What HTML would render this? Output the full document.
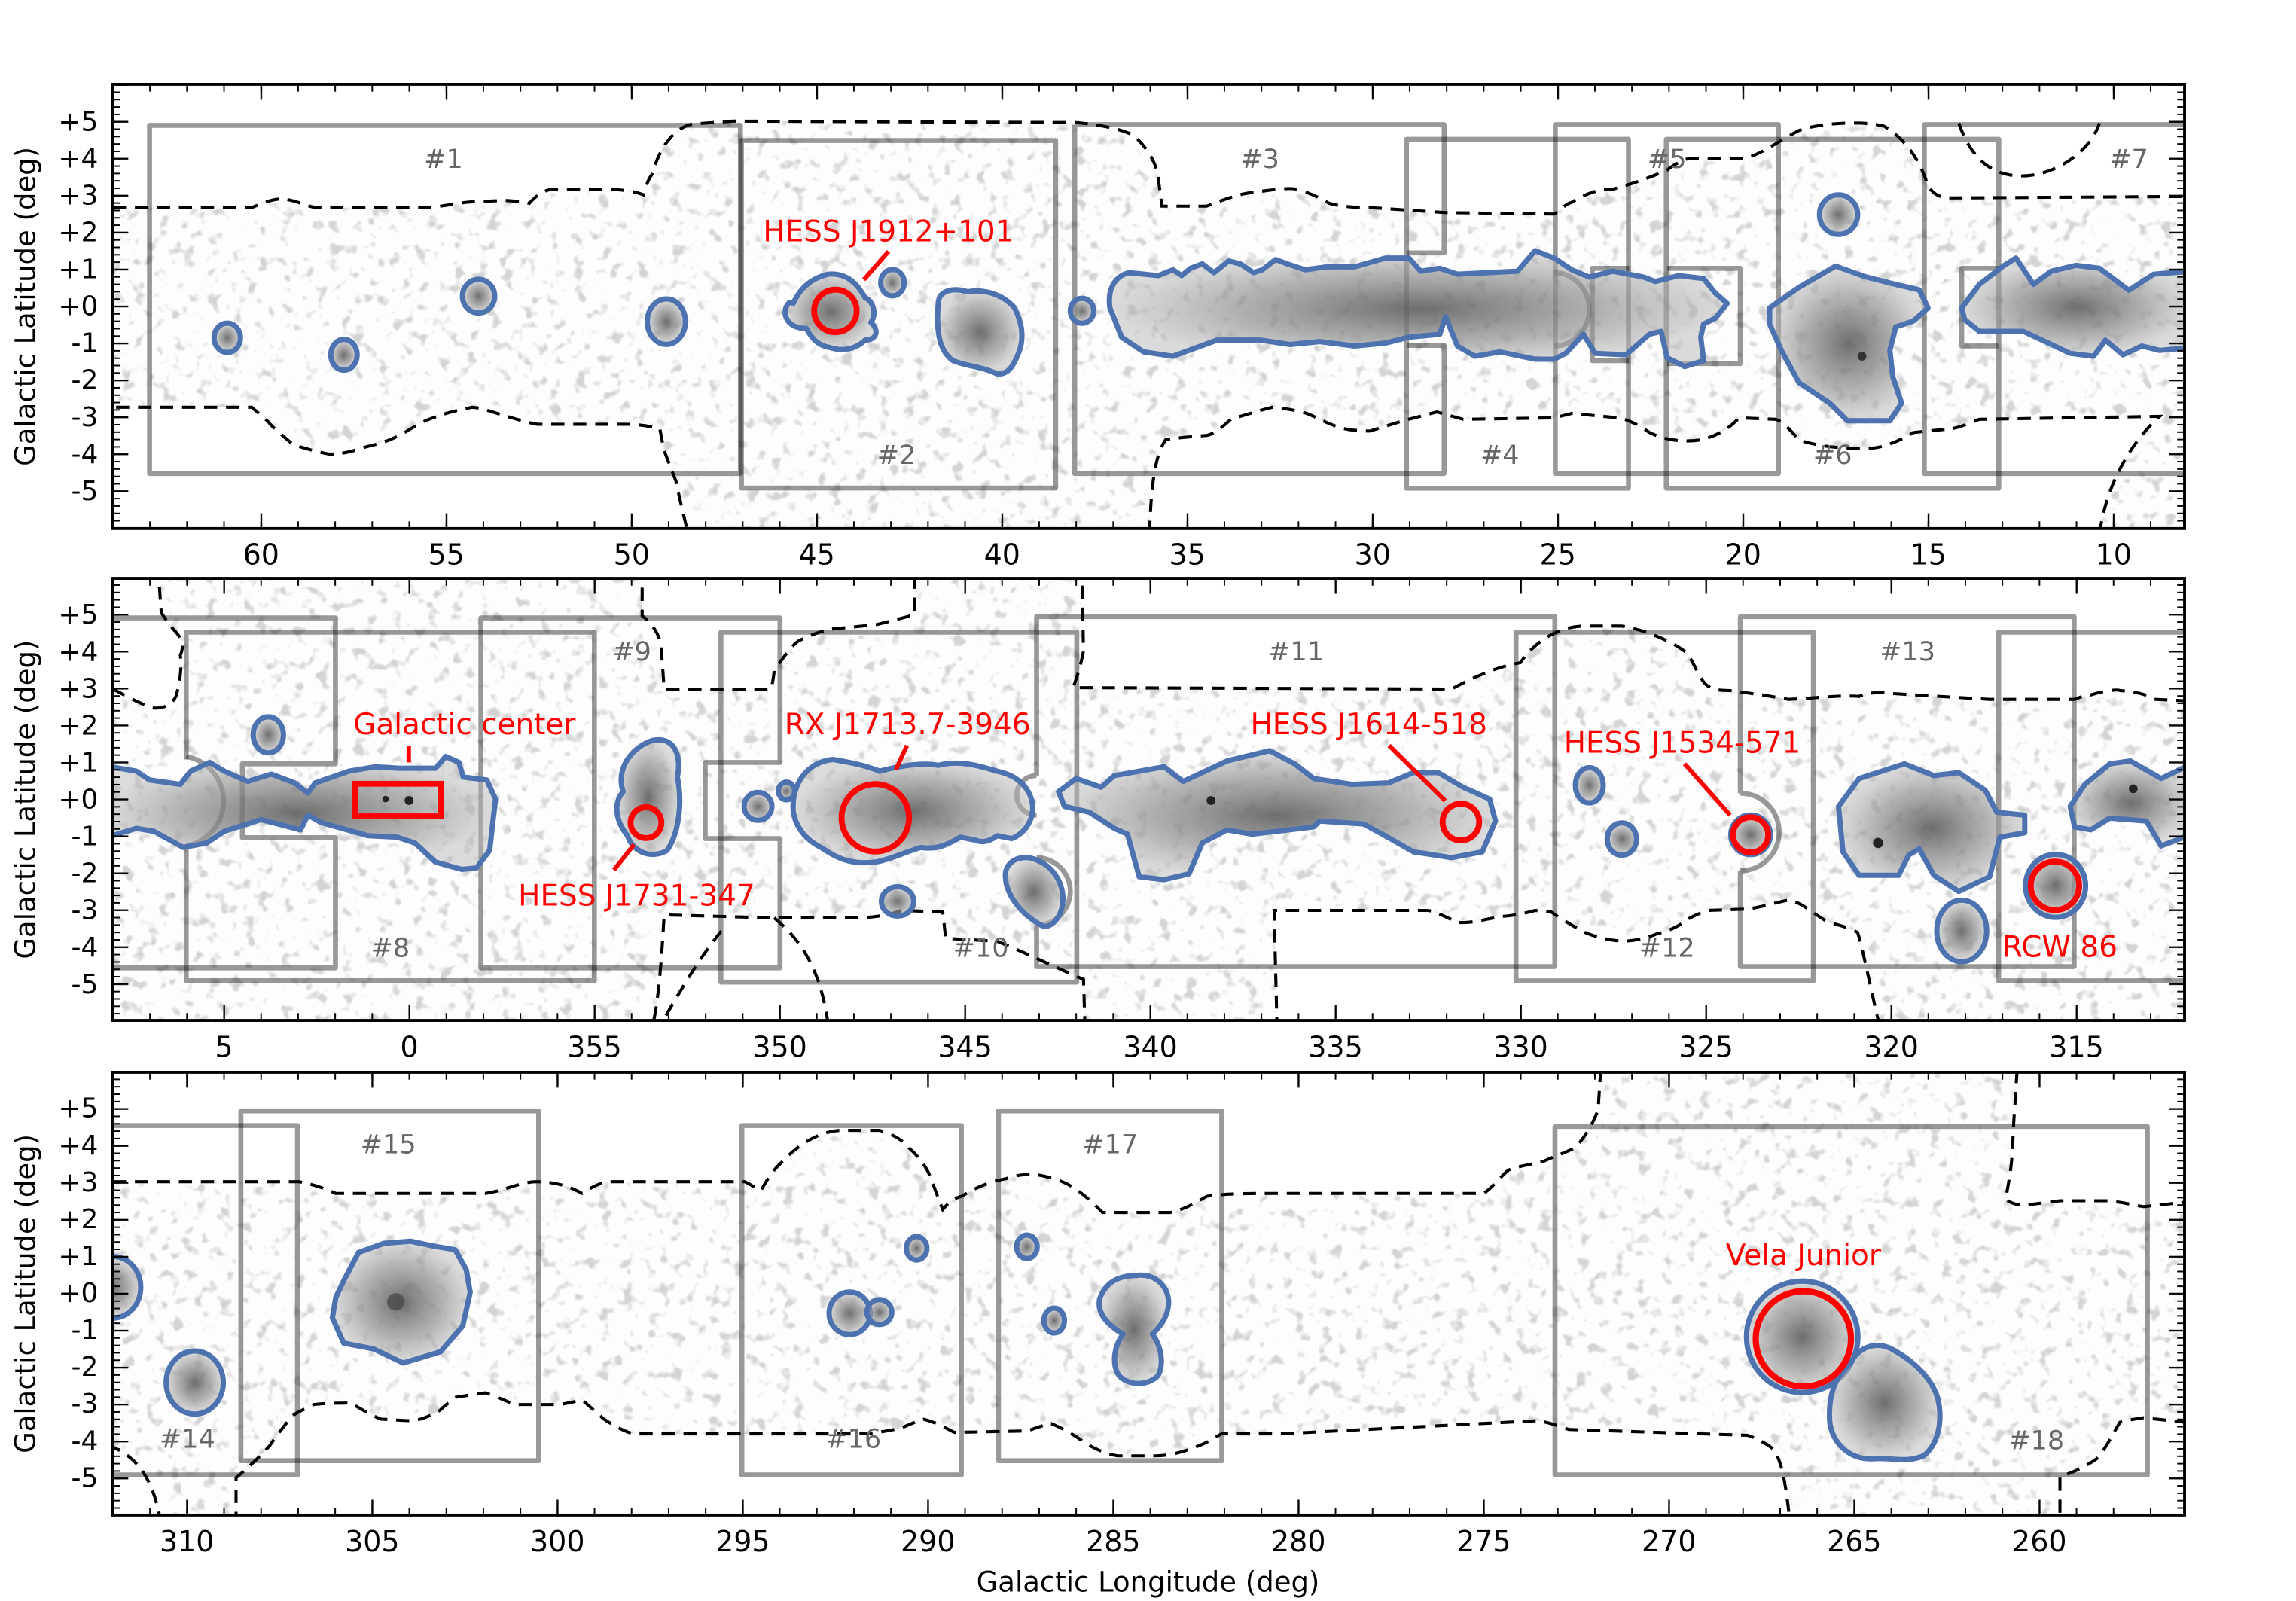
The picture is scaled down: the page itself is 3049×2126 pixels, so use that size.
<!DOCTYPE html>
<html><head><meta charset="utf-8"><style>
html,body{margin:0;padding:0;background:#fff;}
svg{display:block;}
text{font-family:"DejaVu Sans","Liberation Sans",sans-serif;}
</style></head><body>
<svg width="3049" height="2126" viewBox="0 0 1566 1092" preserveAspectRatio="none" xmlns="http://www.w3.org/2000/svg">
<defs>
<filter id="sp" x="0" y="0" width="1566" height="1092" filterUnits="userSpaceOnUse">
<feTurbulence type="fractalNoise" baseFrequency="0.12" numOctaves="2" seed="7"/>
<feColorMatrix type="matrix" values="0 0 0 0 0.66  0 0 0 0 0.66  0 0 0 0 0.66  6 0 0 0 -3.45"/>
</filter>
<radialGradient id="rg"><stop offset="0" stop-color="#5e5e5e" stop-opacity="0.9"/><stop offset="0.6" stop-color="#929292" stop-opacity="0.7"/><stop offset="1" stop-color="#b9b9b9" stop-opacity="0.5"/></radialGradient>
<clipPath id="c1"><rect x="77" y="57.5" width="1413" height="303"/></clipPath>
<clipPath id="c2"><rect x="77" y="394.5" width="1413" height="301.5"/></clipPath>
<clipPath id="c3"><rect x="77" y="731.4" width="1413" height="302"/></clipPath>
<path id="r1" d="M77,141.6 L171.7,141.6 C180,138 188,135 194,135.8 C203,137 210,141 216,141.6 L294,141.6 C305,140 315,138 322,137.7 L344,136.7 C352,137 358,138 361,138.7 C366,133 372,129 378,129 L411,129 C425,129 435,131 439,133 C441,125 443,121 444.5,119.3 C448,108 452,100 455.6,96 C460,90 466,86 472,84.6 L500,82.6 L734,83.6 C750,85 765,88 773,92.3 C782,100 788,110 789.7,119.3 L792.5,140.6 L823,140.6 C835,136 845,132 856.5,131 C870,129 880,128 884,129 C895,132 902,136 906.6,138.7 C915,141 925,141.6 934.5,141.6 L986,145 L1060,146 C1066,142 1068,139 1072,138 C1085,130 1093,129 1100,129 C1115,125 1128,120 1137,116 C1145,110 1150,108 1154,108 L1190,108 C1200,106 1215,95 1227,89 C1240,84 1270,82 1285,86 C1300,95 1310,110 1315,127 C1320,134 1325,135 1330,135 L1490,134 L1490,365 L1432,365 C1436,330 1455,300 1473,284 L1350,286 C1340,290 1333,293 1325,293 L1305,295 C1290,304 1280,306 1272,306 C1250,306 1235,303 1227,300 C1220,292 1215,287 1211,286 L1186,285 C1180,292 1170,298 1160,300 C1148,302 1135,300 1125,295 C1118,290 1110,286 1104,285 L1072,282 L1060,285 L998,286 L980,281 L957,287 L934.5,294 C925,294 918,293 912,291 C903,288 895,283 890,281.6 C880,279 872,278 867.6,277.8 C855,281 847,284 840,285.5 C833,292 828,296 823,297 C810,298 800,299 795,300 C788,310 785,330 784,365 L469.5,365 C466,350 463,338 461,328 C457,318 454,310 452.8,306.8 L450,292.3 C440,290 433,289.4 427.8,289.4 L366.5,289.4 C358,288 350,285 344,283.6 C336,281 328,278 322,277.8 C310,280 300,283 291.4,286.5 C283,290 277,295 272,297 C265,301 257,303 249.6,304.8 C240,308 232,310 224.5,309.7 C215,308 205,305 199.5,303 C193,297 186,292 182.8,287.5 L171.7,277.8 L77,277.8 Z"/>
<path id="r2" d="M77,470 C85,474 95,480 105,483 C112,483 117,481 120,475 C123,465 124,455 123,447 C126,440 124,435 118,429 C114,424 112,421 110,418 L108,390 L438,390 L438,420 C445,425 451,435 451,442 L453,470 L526,470 C527,465 528,460 528,457 C535,448 540,440 545,437 C555,432 562,430 568,429 L598,426 C610,423 618,421 624,419 L624,390 L738,390 L739,444 C737,455 734,463 732,469 L990,470 C1005,462 1020,455 1037,452 C1045,440 1060,428 1079,427 L1106,427 C1125,430 1145,440 1151,446 C1157,455 1160,465 1165,468 C1170,471 1175,471 1180,471 L1202,474 L1220,477 C1240,476 1255,474 1268,475 C1275,472 1283,472 1290,473 L1357,477 L1415,477 C1420,475 1423,474 1426,474 C1435,471 1445,470 1446,471 C1458,472 1465,474 1470,477 L1490,478 L1490,700 L1282,700 C1275,670 1270,645 1267,636 C1260,632 1250,630 1247,629 C1240,625 1235,621 1233,620 C1228,616 1222,614 1219,614 C1210,616 1200,619 1192,620 L1165,621 C1158,623 1153,626 1151,627 C1145,632 1138,635 1130,637 C1120,641 1112,642 1106,642 C1095,641 1085,638 1079,635 C1070,630 1062,625 1058,622 L1047,621 C1040,623 1030,625 1024,625 C1010,628 1000,630 994,629 C985,625 978,621 973,621 L869,621 L871,700 L740,700 L739,668 C720,660 700,650 680,642 L645,640 L643,622 L615,621 C600,626 590,626 577,626 L526,626 L453,624 C452,640 450,680 445,700 L77,700 Z"/>
<path id="r3" d="M77,806 L204,806 C215,808 225,812 229,814 L331,814 C345,812 355,806 366,806 C380,806 390,810 397,814 C403,810 410,806 417,806 L508,806 C512,808 515,810 519,812 C523,805 527,798 534,792 C545,780 560,771 575,771 L600,771 C610,774 616,778 620,783 C628,790 633,798 635,804 C638,812 641,820 643,825 C647,820 651,817 656,816 C665,810 675,806 686,804 C695,801 700,801 706,801 C718,803 726,806 732,810 C740,815 747,822 752,827 L798,827 C808,825 816,820 823,816 C835,814 850,814 873,814 L1012,814 C1018,810 1023,803 1029,798 C1037,795 1046,794 1053,792 C1062,788 1068,786 1074,783 C1082,775 1087,765 1090,757 L1092,726 L1376,726 L1374,758 C1373,770 1373,782 1372,792 C1371,802 1369,812 1368,818 C1372,821 1376,822 1381,822 L1405,819 L1438,819 C1448,820 1455,822 1462,823 L1490,820 L1490,970 L1462,967 C1455,968 1450,969 1446,970 C1440,980 1435,990 1430,995 C1420,1002 1412,1005 1405,1007 L1405,1040 L1221,1040 C1219,1020 1217,1008 1215,1001 C1213,994 1211,990 1209,988 C1204,984 1198,981 1192,979 L1070,975 C1062,972 1055,970 1049,969 L873,978 L833,978 C828,981 823,984 818,986 C808,990 798,993 788,993 L762,993 C752,991 744,987 737,982 C730,977 722,973 717,971 C712,972 706,974 701,976 L651,977 C645,974 638,970 630,968 C624,970 619,972 615,974 C605,976 595,978 585,978 L432,978 C425,976 418,972 412,968 C405,962 400,957 397,955 C392,956 387,957 382,958 L351,958 C344,955 337,952 331,950 C324,951 317,952 311,953 C307,956 303,959 300,962 C293,966 286,969 280,969 C273,969 266,968 260,968 C252,965 245,960 239,957 C231,957 222,957 214,958 C208,961 203,963 199,966 C192,975 188,980 184,986 C176,995 168,1002 161,1008 L161,1040 L110,1040 C105,1010 95,995 77,987 Z"/>
<clipPath id="rc1"><use href="#r1"/></clipPath>
<clipPath id="rc2"><use href="#r2"/></clipPath>
<clipPath id="rc3"><use href="#r3"/></clipPath>
<pattern id="xmin" x="76.5" y="0" width="25.27" height="1092" patternUnits="userSpaceOnUse"><rect x="0" y="0" width="1" height="1092" fill="#000"/></pattern>
<pattern id="xmaj1" x="177.6" y="0" width="126.35" height="1092" patternUnits="userSpaceOnUse"><rect x="0" y="0" width="1.2" height="1092" fill="#000"/></pattern>
<pattern id="xmaj2" x="152.3" y="0" width="126.35" height="1092" patternUnits="userSpaceOnUse"><rect x="0" y="0" width="1.2" height="1092" fill="#000"/></pattern>
<pattern id="xmaj3" x="127" y="0" width="126.35" height="1092" patternUnits="userSpaceOnUse"><rect x="0" y="0" width="1.2" height="1092" fill="#000"/></pattern>
<pattern id="ymin1" x="0" y="208.55" width="1566" height="5.04" patternUnits="userSpaceOnUse"><rect x="0" y="0" width="1566" height="1" fill="#000"/></pattern>
<pattern id="ymaj1" x="0" y="208.45" width="1566" height="25.2" patternUnits="userSpaceOnUse"><rect x="0" y="0" width="1566" height="1.2" fill="#000"/></pattern>
<pattern id="ymin2" x="0" y="544.75" width="1566" height="5.04" patternUnits="userSpaceOnUse"><rect x="0" y="0" width="1566" height="1" fill="#000"/></pattern>
<pattern id="ymaj2" x="0" y="544.65" width="1566" height="25.2" patternUnits="userSpaceOnUse"><rect x="0" y="0" width="1566" height="1.2" fill="#000"/></pattern>
<pattern id="ymin3" x="0" y="881.9" width="1566" height="5.04" patternUnits="userSpaceOnUse"><rect x="0" y="0" width="1566" height="1" fill="#000"/></pattern>
<pattern id="ymaj3" x="0" y="881.8" width="1566" height="25.2" patternUnits="userSpaceOnUse"><rect x="0" y="0" width="1566" height="1.2" fill="#000"/></pattern>
</defs>

<!-- ===== Panel 1 ===== -->
<g clip-path="url(#c1)">
<g clip-path="url(#rc1)"><rect x="77" y="57.5" width="1413" height="303" fill="#fdfdfd"/><rect x="77" y="57.5" width="1413" height="303" filter="url(#sp)"/></g>
<use href="#r1" fill="none" stroke="#000" stroke-width="2.1" stroke-dasharray="9 6"/>
<path d="M1336,84 C1345,110 1360,120 1379,120 C1400,120 1425,105 1432,84" fill="none" stroke="#000" stroke-width="2.1" stroke-dasharray="9 6"/>
<g fill="none" stroke="#000" stroke-opacity="0.4" stroke-width="3.4" stroke-linejoin="round">
<rect x="102" y="85.5" width="403" height="237.5"/>
<rect x="505.7" y="95.8" width="214.3" height="237.1"/>
<path d="M733,85 L985,85 L985,172.5 L960,172.5 M960,235.6 L985,235.6 L985,323 L733,323 L733,85"/>
<rect x="959.3" y="95" width="151.4" height="238"/>
<path d="M1111,183 L1086,183 L1086,246 L1111,246"/>
<rect x="1060.8" y="85" width="152.2" height="238"/>
<rect x="1136.5" y="95" width="226.8" height="238"/>
<path d="M1137,183 L1187,183 L1187,248 L1137,248"/>
<path d="M1500,85 L1312.5,85 L1312.5,323 L1500,323"/>
<path d="M1363,183 L1338,183 L1338,236 L1363,236"/>
<path d="M1060,186 A24,25 0 0 1 1060,236"/>
</g>
<g fill="url(#rg)" stroke="#4c72b0" stroke-width="3.6" stroke-linejoin="round">
<ellipse cx="155" cy="230.4" rx="9" ry="10"/>
<ellipse cx="234.6" cy="242" rx="9" ry="10.5"/>
<ellipse cx="326.4" cy="202" rx="11" ry="11.5"/>
<ellipse cx="454.5" cy="219.4" rx="13" ry="15.5"/>
<path d="M541,207 C545,198 552,190 565,187 C578,186 585,194 590,203 C596,206 598,214 594,220 C600,225 598,232 590,232 C584,238 575,240 566,237 C558,236 553,230 550,224 C538,224 534,216 536,210 C538,205 540,206 541,207 Z"/>
<ellipse cx="608.7" cy="192.8" rx="8" ry="9"/>
<path d="M640,206 C641,198 650,196 660,199 C672,197 684,201 692,210 C698,222 698,232 695,240 C692,248 688,256 680,255 C670,250 660,250 650,246 C642,240 638,230 640,206 Z"/>
<ellipse cx="738" cy="212" rx="8" ry="8.5"/>
<path d="M757,210 C755,195 762,188 770,186 L790,188 L800,184 L806,188 L812,183 L820,180 L828,186 L838,178 L846,180 L855,186 L861,184 L870,177 L878,180 L890,184 L905,182 L924,182 L945,176 L961,176 L969,185 L982,183 L994,187 L1035,185 L1047,171 L1060,176 L1072,184 L1084,189 L1100,185 L1121,189 L1129,192 L1145,188 L1162,190 L1170,200 L1178,207 L1170,217 L1162,221 L1160,230 L1162,246 L1149,250 L1137,244 L1133,226 L1125,228 L1109,242 L1088,241 L1080,228 L1068,241 L1060,245 L1047,245 L1023,240 L1006,243 L994,236 L986,216 L982,228 L961,230 L945,234 L924,236 L900,233 L880,235 L860,232 L830,232 L800,243 L780,240 L765,230 Z"/>
<ellipse cx="1254" cy="146.4" rx="13" ry="13.5"/>
<path d="M1207,210 L1227,196 L1252,181.5 L1272,188.7 L1293,194 L1309,197.7 L1315,210 L1305,219 L1293,223 L1289,239 L1291,257 L1297,275 L1289,287 L1260,287 L1248,275 L1227,261 L1215,239 L1207,221 Z"/>
<path d="M1338,210 L1350,194 L1367,181 L1375,176 L1381,185 L1387,194 L1399,185 L1416,181 L1432,183 L1452,198 L1469,187 L1495,185 L1495,237 L1473,239 L1461,236 L1448,242 L1436,232 L1428,243 L1412,241 L1380,226 L1350,226 L1340,218 Z"/>
</g>
<circle cx="1270" cy="243" r="3" fill="#333"/>
<circle cx="569.8" cy="212.1" r="14.5" fill="none" stroke="#f00" stroke-width="4"/>
<line x1="606" y1="171.5" x2="589.2" y2="190.8" stroke="#f00" stroke-width="3"/>
</g>

<!-- ===== Panel 2 ===== -->
<g clip-path="url(#c2)">
<g clip-path="url(#rc2)"><rect x="77" y="394.5" width="1413" height="302" fill="#fdfdfd"/><rect x="77" y="394.5" width="1413" height="302" filter="url(#sp)"/></g>
<use href="#r2" fill="none" stroke="#000" stroke-width="2.1" stroke-dasharray="9 6"/>
<path d="M492,635 C480,650 470,665 450,700 M528,626 C545,640 560,660 565,700" fill="none" stroke="#000" stroke-width="2.1" stroke-dasharray="9 6"/>
<g fill="none" stroke="#000" stroke-opacity="0.4" stroke-width="3.4" stroke-linejoin="round">
<path d="M70,421.5 L228.8,421.5 L228.8,521 L165.3,521 L165.3,571.3 L228.8,571.3 L228.8,660.2 L70,660.2"/>
<path d="M127,518 L127,431.2 L405.4,431.2 L405.4,668.9 L127,668.9 L127,578"/>
<path d="M127,516 A31,31 0 0 1 127,577"/>
<path d="M328,421.5 L532,421.5 L532,520 L481,520 L481,572 L532,572 L532,660.2 L328,660.2 Z"/>
<rect x="491.7" y="431.2" width="242.7" height="238.7"/>
<path d="M707,529 L707,420.6 L1060.5,420.6 L1060.5,659.3 L707,659.3 L707,631 M707,529 A13,13 0 0 0 707,556 M707,585 A23,23 0 0 1 707,631"/>
<rect x="1034" y="431.2" width="202.8" height="237.8"/>
<path d="M1187,541 L1187,420.6 L1414.7,420.6 L1414.7,659.3 L1187,659.3 L1187,594 M1187,541 A26.5,26.5 0 0 1 1187,594"/>
<path d="M1500,431.2 L1363.2,431.2 L1363.2,669 L1500,669"/>
</g>
<g fill="url(#rg)" stroke="#4c72b0" stroke-width="3.6" stroke-linejoin="round">
<ellipse cx="183" cy="501.2" rx="10.3" ry="12.3"/>
<path d="M70,522 L93,526 L102,532 L123,535 L130,526 L143,520 L153,526 L169,533 L185,528 L201,534 L210,541 L215,534 L238,526 L256,523 L272,524 L297,524 L304,516 L313,520 L316,530 L332,532 L338,545 L336,562 L334,580 L325,592 L315,593 L297,588 L283,575 L271,571 L251,570 L219,561 L210,556 L205,566 L178,559 L153,567 L141,575 L125,578 L105,567 L93,565 L70,572 Z"/>
<path d="M425,540 C420,525 430,510 445,505 C460,502 465,515 462,530 C466,550 462,570 455,580 C445,586 432,582 428,570 C420,560 418,548 425,540 Z"/>
<ellipse cx="517" cy="550" rx="9.5" ry="9.5"/>
<ellipse cx="536.4" cy="539.5" rx="5.5" ry="6"/>
<path d="M541,553 C540,535 550,520 568,518 C580,520 590,522 600,526 C615,522 630,520 640,522 C655,518 670,523 680,526 C700,530 706,545 704,555 C702,565 695,570 690,572 L680,570 C675,574 670,575 665,573 L655,571 C648,575 640,580 628,578 C615,582 608,586 597,588 C580,590 570,585 560,578 C548,572 542,562 541,553 Z"/>
<ellipse cx="612.2" cy="614.8" rx="11" ry="10"/>
<path d="M686,600 C684,590 692,584 702,585 C715,588 724,598 725,612 C725,625 718,632 712,632 C704,628 696,622 690,612 C687,606 686,603 686,600 Z"/>
<path d="M722,540 L734,531 L751,537 L760,529 L794,523 L807,533 L837,519 L866,512 L883,521 L896,531 L922,535 L947,534 L964,527 L981,527 L998,537 L1016,545 L1020,560 L1011,581 L990,585 L964,581 L943,569 L930,562 L900,560 L896,564 L854,569 L837,566 L820,575 L811,596 L794,600 L777,598 L769,569 L760,565 L743,554 L726,550 Z"/>
<ellipse cx="1084" cy="535.6" rx="9.5" ry="12"/>
<ellipse cx="1106.2" cy="572.3" rx="10" ry="11"/>
<ellipse cx="1194" cy="569.4" rx="13.5" ry="13.5"/>
<path d="M1254,550 L1268,531 L1299,521 L1319,529 L1336,527 L1354,539 L1362,554 L1381,556 L1381,568 L1364,571 L1357,598 L1336,608 L1319,597 L1309,579 L1302,583 L1295,597 L1268,597 L1257,581 Z"/>
<ellipse cx="1338" cy="635" rx="17" ry="21"/>
<ellipse cx="1402" cy="604.2" rx="20.5" ry="21.5"/>
<path d="M1412,550 L1422,535 L1439,521 L1453,519 L1474,531 L1495,521 L1495,569 L1474,577 L1464,560 L1439,558 L1426,566 L1415,564 Z"/>
</g>
<g fill="#222"><circle cx="279" cy="546" r="3"/><circle cx="263" cy="545" r="2.2"/><circle cx="826" cy="546" r="3"/><circle cx="1281" cy="575" r="3.5"/><circle cx="1455" cy="538" r="3"/></g>
<g fill="none" stroke="#f00" stroke-width="4">
<rect x="242.1" y="534.6" width="58.5" height="22.2"/>
<circle cx="440.6" cy="561.1" r="10.5"/>
<circle cx="597" cy="557.8" r="23"/>
<circle cx="996.4" cy="560.7" r="12.5"/>
<circle cx="1194" cy="569.4" r="12"/>
<circle cx="1401.6" cy="604.2" r="16.5"/>
</g>
<g stroke="#f00" stroke-width="3">
<line x1="278.8" y1="508.5" x2="278.8" y2="520"/>
<line x1="432.4" y1="576.1" x2="418.7" y2="593.5"/>
<line x1="618.6" y1="508.5" x2="611" y2="525"/>
<line x1="947.4" y1="508.5" x2="985.7" y2="546.2"/>
<line x1="1149" y1="521" x2="1180" y2="555.9"/>
</g>
</g>

<!-- ===== Panel 3 ===== -->
<g clip-path="url(#c3)">
<g clip-path="url(#rc3)"><rect x="77" y="731.4" width="1413" height="302" fill="#fdfdfd"/><rect x="77" y="731.4" width="1413" height="302" filter="url(#sp)"/></g>
<use href="#r3" fill="none" stroke="#000" stroke-width="2.1" stroke-dasharray="9 6"/>
<g fill="none" stroke="#000" stroke-opacity="0.4" stroke-width="3.4" stroke-linejoin="round">
<path d="M70,767.7 L202.9,767.7 L202.9,1006 L70,1006"/>
<rect x="164.3" y="757.7" width="203.1" height="238.6"/>
<rect x="506" y="767.7" width="149.7" height="238.3"/>
<rect x="681" y="757.7" width="152.3" height="238.6"/>
<rect x="1060.6" y="768.3" width="404" height="237.7"/>
</g>
<g fill="url(#rg)" stroke="#4c72b0" stroke-width="3.6" stroke-linejoin="round">
<ellipse cx="77" cy="878" rx="19" ry="21"/>
<ellipse cx="132.8" cy="943" rx="19.5" ry="21.5"/>
<path d="M244.5,854.3 L262,848 L280,846.6 L296,850 L310.5,852.4 L318,866 L320.7,881.4 L315.6,904.5 L300.4,922 L275,929.7 L254.7,920 L234.4,916.1 L226.7,898.8 L229,885 L234.4,873.6 Z"/>
<ellipse cx="579.5" cy="895.8" rx="14" ry="14.5"/>
<ellipse cx="599.8" cy="894.9" rx="8.5" ry="8.5"/>
<ellipse cx="625.2" cy="851.4" rx="7" ry="8"/>
<ellipse cx="700.4" cy="850.4" rx="7" ry="8"/>
<ellipse cx="719" cy="900.7" rx="7" ry="8.5"/>
<path d="M775,870 C788,868 798,878 797,890 C796,900 790,906 786,910 C792,918 794,930 790,938 C784,945 770,946 763,938 C758,930 760,918 766,910 C756,904 748,896 750,886 C754,874 764,870 775,870 Z"/>
<circle cx="1229.2" cy="911.8" r="38"/>
<path d="M1262,930 C1268,918 1280,915 1290,920 C1305,928 1318,940 1322,955 C1325,970 1322,985 1312,993 C1300,998 1290,994 1278,995 C1262,996 1250,985 1248,970 C1247,955 1250,940 1262,930 Z"/>
</g>
<circle cx="270" cy="888" r="6" fill="#444" opacity="0.7"/>
<circle cx="1230" cy="913.2" r="32.5" fill="none" stroke="#f00" stroke-width="4.2"/>
</g>

<!-- frames & ticks -->
<g>
<rect x="77" y="57.5" width="1413" height="5" fill="url(#xmin)"/><rect x="77" y="355.6" width="1413" height="5" fill="url(#xmin)"/>
<rect x="77" y="57.5" width="1413" height="10.5" fill="url(#xmaj1)"/><rect x="77" y="350.1" width="1413" height="10.5" fill="url(#xmaj1)"/>
<rect x="77" y="394.5" width="1413" height="5" fill="url(#xmin)"/><rect x="77" y="691" width="1413" height="5" fill="url(#xmin)"/>
<rect x="77" y="394.5" width="1413" height="10.5" fill="url(#xmaj2)"/><rect x="77" y="685.5" width="1413" height="10.5" fill="url(#xmaj2)"/>
<rect x="77" y="731.4" width="1413" height="5" fill="url(#xmin)"/><rect x="77" y="1028.4" width="1413" height="5" fill="url(#xmin)"/>
<rect x="77" y="731.4" width="1413" height="10.5" fill="url(#xmaj3)"/><rect x="77" y="1022.9" width="1413" height="10.5" fill="url(#xmaj3)"/>
<rect x="77" y="57.5" width="5" height="303" fill="url(#ymin1)"/><rect x="1485" y="57.5" width="5" height="303" fill="url(#ymin1)"/>
<rect x="77" y="57.5" width="10.5" height="303" fill="url(#ymaj1)"/><rect x="1479.5" y="57.5" width="10.5" height="303" fill="url(#ymaj1)"/>
<rect x="77" y="394.5" width="5" height="301.5" fill="url(#ymin2)"/><rect x="1485" y="394.5" width="5" height="301.5" fill="url(#ymin2)"/>
<rect x="77" y="394.5" width="10.5" height="301.5" fill="url(#ymaj2)"/><rect x="1479.5" y="394.5" width="10.5" height="301.5" fill="url(#ymaj2)"/>
<rect x="77" y="731.4" width="5" height="302" fill="url(#ymin3)"/><rect x="1485" y="731.4" width="5" height="302" fill="url(#ymin3)"/>
<rect x="77" y="731.4" width="10.5" height="302" fill="url(#ymaj3)"/><rect x="1479.5" y="731.4" width="10.5" height="302" fill="url(#ymaj3)"/>
</g>
<g fill="none" stroke="#000" stroke-width="2">
<rect x="77" y="57.5" width="1413" height="303"/>
<rect x="77" y="394.5" width="1413" height="301.5"/>
<rect x="77" y="731.4" width="1413" height="302"/>
</g>

<!-- box labels -->
<g fill="#666" font-size="18" text-anchor="middle">
<text x="302.5" y="114.5">#1</text><text x="611.5" y="316.4">#2</text><text x="859.3" y="114.5">#3</text>
<text x="1023" y="316.4">#4</text><text x="1137" y="114.5">#5</text><text x="1250" y="316.4">#6</text><text x="1452" y="114.5">#7</text>
<text x="266.2" y="652.5">#8</text><text x="431" y="450.5">#9</text><text x="669" y="652.5">#10</text>
<text x="884" y="450.5">#11</text><text x="1137" y="652.5">#12</text><text x="1301" y="450.5">#13</text>
<text x="127.8" y="987.6">#14</text><text x="264.8" y="786.7">#15</text><text x="582" y="987.6">#16</text>
<text x="757.2" y="786.7">#17</text><text x="1388.9" y="988.6">#18</text>
</g>
<!-- red labels -->
<g fill="#f00" font-size="20">
<text x="606" y="164.7" text-anchor="middle">HESS J1912+101</text>
<text x="241" y="500.8">Galactic center</text>
<text x="515" y="617.7" text-anchor="end">HESS J1731-347</text>
<text x="619" y="500.8" text-anchor="middle">RX J1713.7-3946</text>
<text x="933.6" y="500.8" text-anchor="middle">HESS J1614-518</text>
<text x="1147.4" y="513.4" text-anchor="middle">HESS J1534-571</text>
<text x="1405" y="652.5" text-anchor="middle">RCW 86</text>
<text x="1230" y="863" text-anchor="middle">Vela Junior</text>
</g>

<!-- y tick labels -->
<g font-size="18.5" text-anchor="end" fill="#000" dominant-baseline="central">
<text x="67" y="83.1">+5</text><text x="67" y="108.3">+4</text><text x="67" y="133.5">+3</text><text x="67" y="158.7">+2</text><text x="67" y="183.9">+1</text><text x="67" y="209.1">+0</text><text x="67" y="234.3">-1</text><text x="67" y="259.5">-2</text><text x="67" y="284.7">-3</text><text x="67" y="309.9">-4</text><text x="67" y="335.1">-5</text>
<text x="67" y="419.5">+5</text><text x="67" y="444.7">+4</text><text x="67" y="469.9">+3</text><text x="67" y="495.1">+2</text><text x="67" y="520.3">+1</text><text x="67" y="545.5">+0</text><text x="67" y="570.7">-1</text><text x="67" y="595.9">-2</text><text x="67" y="621.1">-3</text><text x="67" y="646.3">-4</text><text x="67" y="671.5">-5</text>
<text x="67" y="756.2">+5</text><text x="67" y="781.4">+4</text><text x="67" y="806.6">+3</text><text x="67" y="831.8">+2</text><text x="67" y="857">+1</text><text x="67" y="882.2">+0</text><text x="67" y="907.4">-1</text><text x="67" y="932.6">-2</text><text x="67" y="957.8">-3</text><text x="67" y="983">-4</text><text x="67" y="1008.2">-5</text>
</g>
<!-- x tick labels -->
<g font-size="19.5" text-anchor="middle" fill="#000">
<text x="178.1" y="385">60</text><text x="304.4" y="385">55</text><text x="430.8" y="385">50</text><text x="557.1" y="385">45</text><text x="683.5" y="385">40</text><text x="809.8" y="385">35</text><text x="936.2" y="385">30</text><text x="1062.5" y="385">25</text><text x="1188.9" y="385">20</text><text x="1315.2" y="385">15</text><text x="1441.6" y="385">10</text>
<text x="152.8" y="721">5</text><text x="279.2" y="721">0</text><text x="405.5" y="721">355</text><text x="531.9" y="721">350</text><text x="658.2" y="721">345</text><text x="784.6" y="721">340</text><text x="910.9" y="721">335</text><text x="1037.3" y="721">330</text><text x="1163.6" y="721">325</text><text x="1290" y="721">320</text><text x="1416.3" y="721">315</text>
<text x="127.5" y="1058">310</text><text x="253.9" y="1058">305</text><text x="380.2" y="1058">300</text><text x="506.6" y="1058">295</text><text x="632.9" y="1058">290</text><text x="759.3" y="1058">285</text><text x="885.6" y="1058">280</text><text x="1012" y="1058">275</text><text x="1138.3" y="1058">270</text><text x="1264.7" y="1058">265</text><text x="1391" y="1058">260</text>
</g>
<!-- axis titles -->
<g font-size="19" text-anchor="middle" fill="#000">
<text transform="translate(24,209) rotate(-90)">Galactic Latitude (deg)</text>
<text transform="translate(24,545.3) rotate(-90)">Galactic Latitude (deg)</text>
<text transform="translate(24,882.4) rotate(-90)">Galactic Latitude (deg)</text>
<text x="783" y="1085.5">Galactic Longitude (deg)</text>
</g>
</svg>
</body></html>
